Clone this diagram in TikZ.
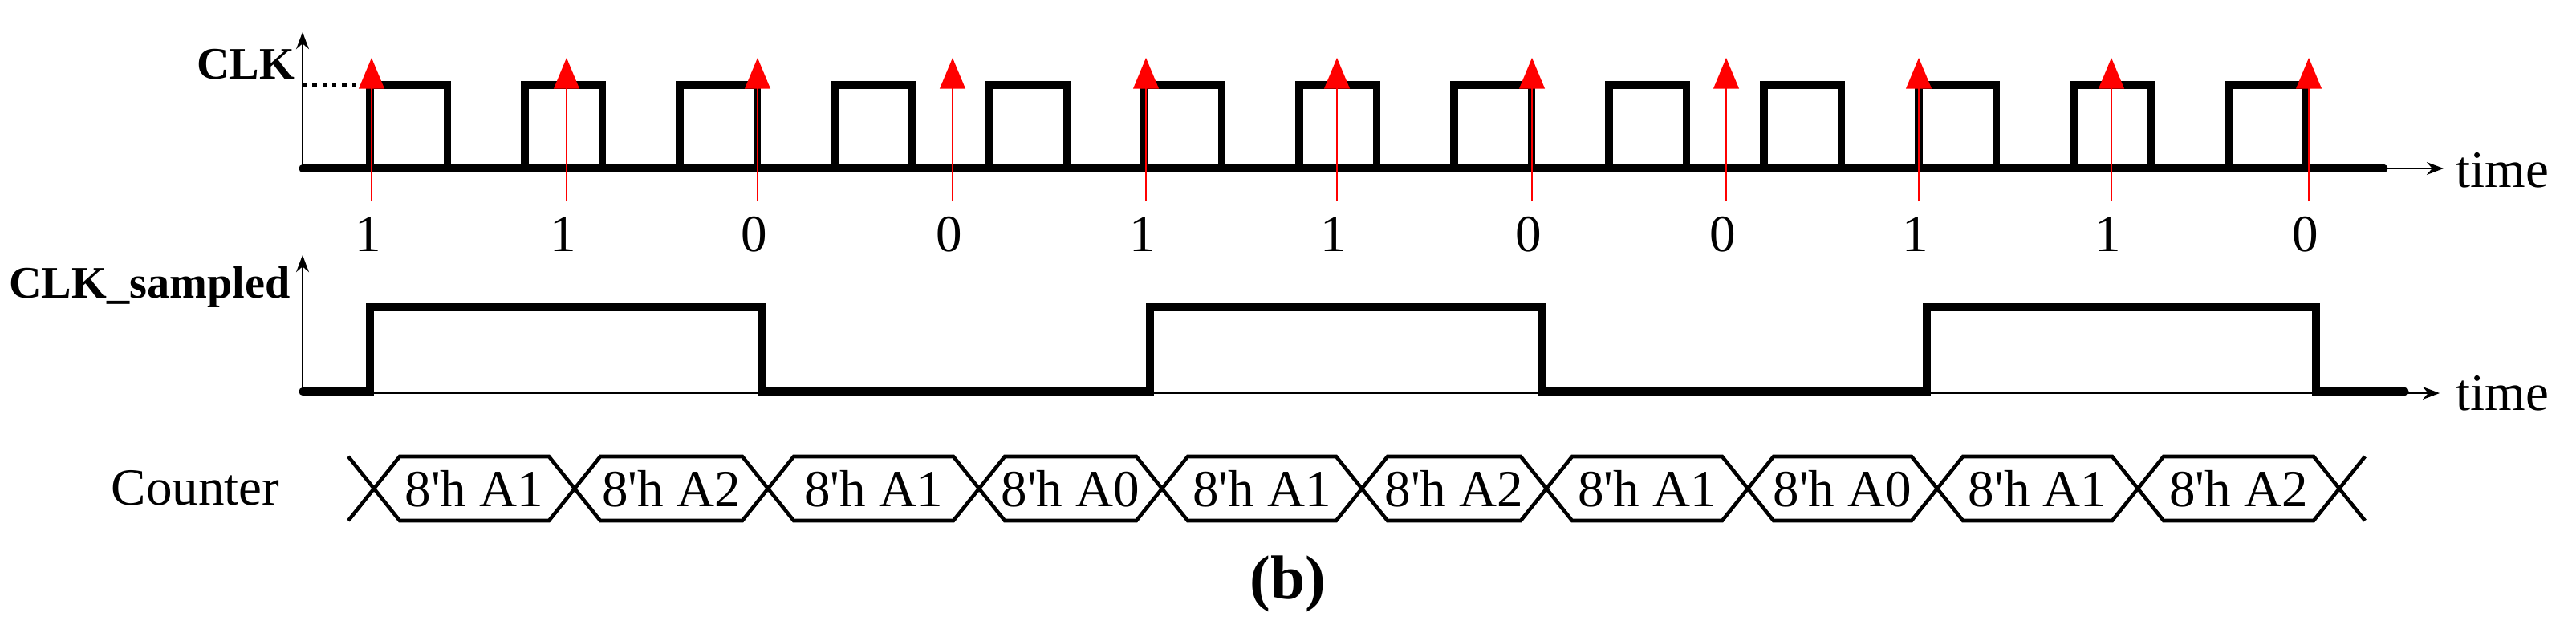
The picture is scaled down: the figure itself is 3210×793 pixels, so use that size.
\documentclass[tikz,border=0pt]{standalone}
\usepackage{fontspec}
\setmainfont{Liberation Serif}
\usetikzlibrary{arrows.meta}
\begin{document}
\begin{tikzpicture}[x=0.01cm,y=-0.01cm,
  sig/.style={line width=2.6pt,line join=miter,line cap=round},
  ax/.style={line width=0.6pt,-{Stealth[length=6pt,width=4.5pt]}},
  samp/.style={red,line width=0.6pt,-{Triangle[length=11pt,width=9pt]}},
  bus/.style={line width=1.3pt,line join=miter},
  lbl/.style={font=\fontsize{18.5}{20}\selectfont,inner sep=0pt},
  blbl/.style={font=\fontsize{16}{18}\selectfont\bfseries,inner sep=0pt}]
\useasboundingbox (0,0) rectangle (3210,793);
% CLK axes
\draw[ax] (377,210) -- (377,40);
\draw[ax] (377,210) -- (3045,210);
\node[lbl,anchor=west] (t1) at (3060,212) {time};
\node[blbl,anchor=east] (clk) at (368,80) {CLK};
\draw[line width=1.5pt,dotted] (377,106) -- (461,106);
\draw[sig] (377,210) -- (2971,210);
\foreach \i in {0,...,12}{
  \pgfmathsetmacro\r{461+193*\i}
  \pgfmathsetmacro\f{\r+96.5}
  \draw[sig] (\r,210) -- (\r,106) -- (\f,106) -- (\f,210);
}
% samples
\foreach \x/\v in {463/1,706/1,944/0,1187/0,1428/1,1666/1,1909/0,2151/0,2391/1,2631/1,2877/0}{
  \draw[samp] (\x,251) -- (\x,72);
  \node[lbl] at (\x-4,292) {\v};
}
% CLK_sampled
\draw[ax] (377,490) -- (377,318);
\draw[ax] (377,490) -- (3040,490);
\node[lbl,anchor=west] (t2) at (3060,490) {time};
\node[blbl,anchor=east] (cs) at (362,358) {CLK\_sampled};
\draw[sig] (377,488) -- (461,488) -- (461,383) -- (950,383) -- (950,488) -- (1433,488) -- (1433,383)
  -- (1922,383) -- (1922,488) -- (2401,488) -- (2401,383) -- (2886,383) -- (2886,488) -- (2997,488);
% Counter
\node[lbl,anchor=west] (cnt) at (138,608) {Counter};
\def\q{\textquotesingle}
\def\cl{466/716/8\q h A1,716/957/8\q h A2,957/1220/8\q h A1,1220/1448/8\q h A0,1448/1697/8\q h A1,1697/1927/8\q h A2,1927/2178/8\q h A1,2178/2414/8\q h A0,2414/2664/8\q h A1,2664/2915/8\q h A2}
\foreach \a/\b/\t in \cl{
  \draw[bus] (\a,609) -- (\a+32,569) -- (\b-32,569) -- (\b,609) -- (\b-32,649) -- (\a+32,649) -- cycle;
  \node[lbl] at ({(\a+\b)/2},609) {\t};
}
\draw[bus] (434,569) -- (466,609) -- (434,649);
\draw[bus] (2947,569) -- (2915,609) -- (2947,649);
\node[font=\fontsize{22}{24}\selectfont\bfseries,inner sep=0pt] (cap) at (1605,728) {(b)};
\end{tikzpicture}
\end{document}
